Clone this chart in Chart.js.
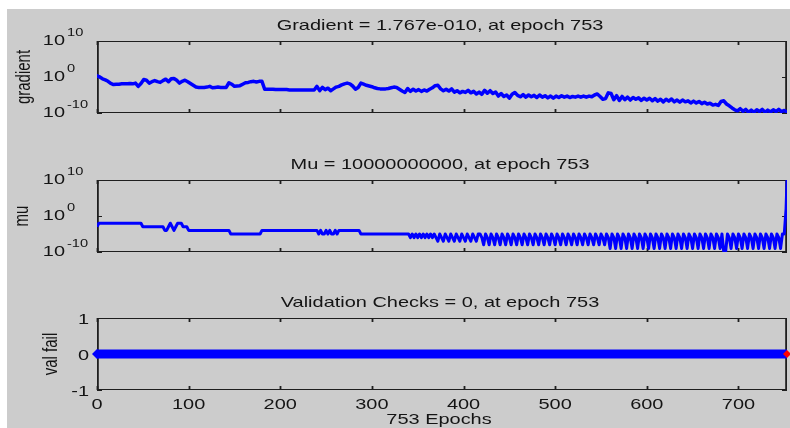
<!DOCTYPE html>
<html>
<head>
<meta charset="utf-8">
<script src="https://cdn.jsdelivr.net/npm/chart.js@4.4.0/dist/chart.umd.min.js"></script>
<style>
  html, body { margin: 0; padding: 0; background: #fff; }
  #fig { position: relative; width: 790px; height: 428px; overflow: hidden; }
  #bg { position: absolute; left: 7px; top: 9px; right: 0; bottom: 0; background: #cccccc; }
  canvas { position: absolute; left: 0; top: 0; }
</style>
</head>
<body>
<div id="fig">
  <div id="bg"></div>
  <canvas id="gradChart" width="800" height="428"></canvas>
  <canvas id="muChart" width="800" height="428"></canvas>
  <canvas id="valChart" width="800" height="428"></canvas>
</div>
<script>
const maxEpoch = 753;
const xTicks = [0, 100, 200, 300, 400, 500, 600, 700];
const logTicks = [-10, 0, 10];
const valTicks = [-1, 0, 1];

const titles = [
    "Gradient = 1.767e-010, at epoch 753",
    "Mu = 10000000000, at epoch 753",
    "Validation Checks = 0, at epoch 753",
];
const yLabels = ["gradient", "mu", "val fail"];
const xLabel = "753 Epochs";

// log10 of the gradient, one value every 3 epochs (0, 3, ... 753)
const gradientExp = [
    0.3, 0.0, -0.5, -0.8, -1.2, -1.8, -2.1, -2.0, -2.0, -1.9,
    -1.9, -1.9, -1.8, -1.9, -1.7, -2.6, -1.8, -0.7, -0.9, -1.7,
    -1.3, -1.0, -1.3, -1.5, -1.0, -0.6, -1.3, -0.5, -0.4, -0.9,
    -1.7, -1.2, -0.9, -1.3, -1.8, -2.3, -2.8, -2.9, -2.9, -2.9,
    -2.8, -2.6, -3.0, -2.9, -2.8, -2.9, -2.9, -2.9, -1.6, -2.0,
    -2.6, -2.5, -2.4, -2.0, -1.6, -1.5, -1.3, -1.2, -1.4, -1.2,
    -1.2, -3.4, -3.4, -3.4, -3.4, -3.5, -3.5, -3.5, -3.5, -3.5,
    -3.6, -3.6, -3.6, -3.6, -3.6, -3.6, -3.6, -3.6, -3.6, -3.6,
    -2.6, -3.8, -2.9, -3.5, -3.1, -3.8, -3.3, -2.8, -2.6, -2.2,
    -1.9, -1.7, -1.9, -2.5, -3.4, -2.9, -1.7, -2.0, -2.3, -2.5,
    -2.7, -3.0, -3.2, -3.3, -3.3, -3.3, -3.2, -3.0, -2.8, -2.9,
    -3.4, -3.9, -4.3, -3.2, -4.0, -3.4, -3.9, -3.5, -4.0, -3.6,
    -3.9, -3.4, -3.0, -2.4, -2.3, -3.3, -3.8, -3.4, -3.9, -3.3,
    -4.2, -3.8, -4.4, -4.0, -4.3, -3.7, -4.4, -4.0, -4.7, -4.2,
    -4.8, -3.7, -4.5, -3.8, -4.6, -4.2, -5.3, -4.6, -5.4, -5.0,
    -5.9, -4.8, -4.3, -5.1, -5.5, -4.9, -5.6, -5.0, -5.5, -5.1,
    -5.7, -5.0, -5.6, -5.2, -5.8, -5.3, -5.9, -5.3, -5.7, -5.2,
    -5.6, -5.3, -5.7, -5.4, -5.6, -5.3, -5.6, -5.3, -5.6, -5.3,
    -5.5, -5.0, -4.7, -5.4, -6.2, -6.0, -4.4, -4.6, -6.3, -5.2,
    -6.5, -5.4, -6.3, -5.6, -6.4, -5.7, -6.2, -5.8, -6.5, -5.9,
    -6.4, -5.9, -6.6, -6.0, -6.7, -6.2, -6.9, -6.2, -6.7, -6.1,
    -6.9, -6.4, -7.0, -6.4, -6.9, -6.6, -7.2, -6.7, -7.2, -6.8,
    -7.4, -7.0, -7.5, -7.3, -7.8, -7.6, -7.9, -6.8, -6.6, -7.5,
    -8.0, -8.6, -9.1, -9.4, -8.8, -9.5, -9.0, -9.8, -9.2, -9.8,
    -9.1, -9.6, -9.0, -9.8, -9.2, -9.7, -9.1, -9.6, -9.0, -9.6,
    -9.3, -9.75,
];

// log10 of mu, one value every 2 epochs (0, 2, ... 752) and the last epoch 753
const muExp = [
    -3,
    -2, -2, -2, -2, -2, -2, -2, -2, -2, -2, -2, -2,
    -2, -2, -2, -2, -2, -2, -2, -2, -2, -2, -2, -2,
    -3, -3, -3, -3, -3, -3, -3, -3, -3, -3, -3, -3,
    -4, -4, -3, -2, -3, -4, -3, -2, -2, -2, -3, -3, -3, -4,
    -4, -4, -4, -4, -4, -4, -4, -4, -4, -4, -4,
    -4, -4, -4, -4, -4, -4, -4, -4, -4, -4, -4,
    -5, -5, -5, -5, -5, -5, -5, -5, -5, -5, -5, -5, -5, -5, -5, -5, -5,
    -4, -4, -4, -4, -4, -4, -4, -4, -4, -4,
    -4, -4, -4, -4, -4, -4, -4, -4, -4, -4,
    -4, -4, -4, -4, -4, -4, -4, -4, -4, -4, -4,
    -5, -4, -5, -5, -4, -5, -4, -5, -5, -4, -5, -4,
    -4, -4, -4, -4, -4, -4, -4, -4, -4, -4, -4,
    -5, -5, -5, -5, -5, -5, -5, -5, -5, -5, -5, -5, -5,
    -5, -5, -5, -5, -5, -5, -5, -5, -5, -5, -5, -5, -5,
    -5, -6, -5, -6, -5, -6, -5, -6, -5, -6, -5, -6, -5, -6,
    -5, -6, -7, -5, -6, -7, -5, -6, -7, -5, -6, -7,
    -5, -6, -7, -5, -6, -7, -5, -6, -7, -5, -6, -7, -5,
    -5, -6, -8, -5, -6, -8, -5, -6, -8, -5, -6, -8,
    -5, -6, -8, -5, -6, -8, -5, -6, -8, -5, -6, -8,
    -5, -6, -8, -5, -6, -8, -5, -6, -8, -5, -6, -8,
    -5, -6, -8, -5, -6, -8, -5, -6, -8, -5, -6, -8,
    -5, -6, -8, -5, -6, -8, -5, -6, -8, -5, -6, -8,
    -5, -6, -8, -5, -6, -8, -5, -6, -8,
    -5, -6, -9, -5, -6, -9, -5, -6, -9, -5, -6, -9,
    -5, -6, -9, -5, -6, -9, -5, -6, -9, -5, -6, -9,
    -5, -6, -9, -5, -6, -9, -5, -6, -9, -5, -6, -9,
    -5, -6, -9, -5, -6, -9, -5, -6, -9, -5, -6, -9,
    -5, -6, -9, -5, -6, -9, -5, -6, -9, -5, -6, -9,
    -5, -6, -9, -5, -10, -10, -5, -6, -9, -5, -6, -9,
    -5, -6, -9, -5, -6, -9, -5, -6, -9, -5, -6, -9,
    -5, -6, -9, -5, -6, -9, -5, -6, -9, -5, -6, -9,
    -5,
    -5, 2, 10,
];

const valEpochs = [0, 753];
const valFail = [0, 0];
const lastEpoch = [753];
const lastValFail = [0];

const BLUE = "#0000ff";
const SX = 1.33; // the figure is stretched sideways
const FONT = '"Liberation Sans", Arial, sans-serif';

function drawText(ctx, str, x, y, size, align, baseline, rotate) {
    ctx.save();
    ctx.translate(x, y);
    ctx.scale(SX, 1);
    if (rotate) ctx.rotate(-Math.PI / 2);
    ctx.font = size + "px " + FONT;
    ctx.textAlign = align;
    ctx.textBaseline = baseline;
    ctx.fillStyle = "#141414";
    ctx.fillText(str, 0, 0);
    ctx.restore();
}

const axesFrame = {
    id: "axesFrame",
    // box and ticks go under the lines
    beforeDatasetsDraw(chart, args, opts) {
        const { ctx, chartArea: a } = chart;
        const x = chart.scales.x;
        const y = chart.scales.y;
        ctx.save();
        ctx.strokeStyle = "#1e1e1e";

        ctx.lineWidth = 1;
        ctx.beginPath();
        ctx.moveTo(a.left, a.top + 0.5);
        ctx.lineTo(a.right, a.top + 0.5);
        ctx.moveTo(a.left, a.bottom - 0.5);
        ctx.lineTo(a.right, a.bottom - 0.5);
        ctx.stroke();
        ctx.lineWidth = 1.8;
        ctx.beginPath();
        ctx.moveTo(a.left + 0.9, a.top);
        ctx.lineTo(a.left + 0.9, a.bottom);
        ctx.moveTo(a.right - 0.9, a.top);
        ctx.lineTo(a.right - 0.9, a.bottom);
        ctx.stroke();

        ctx.beginPath();
        xTicks.forEach(v => {
            const px = Math.round(x.getPixelForValue(v)) + 0.5;
            ctx.moveTo(px, a.top);
            ctx.lineTo(px, a.top + 4);
            ctx.moveTo(px, a.bottom);
            ctx.lineTo(px, a.bottom - 4);
        });
        ctx.stroke();
        ctx.lineWidth = 1;
        ctx.beginPath();
        opts.yTicks.forEach(v => {
            const py = Math.round(y.getPixelForValue(opts.log ? 10 ** v : v)) + 0.5;
            ctx.moveTo(a.left, py);
            ctx.lineTo(a.left + 5, py);
            ctx.moveTo(a.right, py);
            ctx.lineTo(a.right - 5, py);
        });
        ctx.stroke();
        ctx.restore();
    },
    afterDraw(chart, args, opts) {
        const { ctx, chartArea: a } = chart;
        const x = chart.scales.x;
        const y = chart.scales.y;

        opts.yTicks.forEach(v => {
            const py = y.getPixelForValue(opts.log ? 10 ** v : v);
            if (opts.log) {
                drawText(ctx, "10", 65, py + 4, 15, "right", "alphabetic");
                drawText(ctx, String(v), 67, py - 5, 11, "left", "alphabetic");
            } else {
                drawText(ctx, String(v), 89, py + 6, 15, "right", "alphabetic");
            }
        });
        if (opts.xLabels) {
            xTicks.forEach(v => {
                drawText(ctx, String(v), x.getPixelForValue(v), a.bottom + 18.5, 15, "center", "alphabetic");
            });
            drawText(ctx, xLabel, (a.left + a.right) / 2 - 3, a.bottom + 34, 15, "center", "alphabetic");
        }

        drawText(ctx, opts.title, (a.left + a.right) / 2 - 2, a.top - 11, 15, "center", "alphabetic");
        drawText(ctx, opts.yLabel, opts.yLabelX, (a.top + a.bottom) / 2, 15, "center", "middle", true);
    },
};

function makeOptions(padding, yScale, frame) {
    return {
        responsive: false,
        animation: false,
        devicePixelRatio: 1,
        events: [],
        layout: { padding: padding },
        plugins: {
            legend: { display: false },
            tooltip: { enabled: false },
            axesFrame: frame,
        },
        scales: {
            x: { type: "linear", min: 0, max: maxEpoch, display: false },
            y: Object.assign({ display: false }, yScale),
        },
    };
}

const gradPoints = gradientExp.map((v, i) => ({ x: Math.min(i * 3, maxEpoch), y: 10 ** v }));
const muPoints = muExp.map((v, i) => ({ x: Math.min(i * 2, maxEpoch), y: 10 ** v }));
const valPoints = valEpochs.map((e, i) => ({ x: e, y: valFail[i] }));
const lastPoints = lastEpoch.map((e, i) => ({ x: e, y: lastValFail[i] }));

new Chart(document.getElementById("gradChart"), {
    type: "line",
    data: {
        datasets: [{
            data: gradPoints,
            borderColor: BLUE,
            borderWidth: 3.5,
            borderJoinStyle: "round",
            borderCapStyle: "round",
            pointRadius: 0,
            tension: 0,
        }],
    },
    options: makeOptions(
        { left: 97, top: 41, right: 13, bottom: 315 },
        { type: "logarithmic", min: 1e-10, max: 1e10 },
        { log: true, yTicks: logTicks, title: titles[0], yLabel: yLabels[0], yLabelX: 24, xLabels: false }
    ),
    plugins: [axesFrame],
});

new Chart(document.getElementById("muChart"), {
    type: "line",
    data: {
        datasets: [{
            data: muPoints,
            borderColor: BLUE,
            borderWidth: 3,
            borderJoinStyle: "round",
            pointRadius: 0,
            tension: 0,
        }],
    },
    options: makeOptions(
        { left: 97, top: 180, right: 13, bottom: 176 },
        { type: "logarithmic", min: 1e-10, max: 1e10 },
        { log: true, yTicks: logTicks, title: titles[1], yLabel: yLabels[1], yLabelX: 22, xLabels: false }
    ),
    plugins: [axesFrame],
});

new Chart(document.getElementById("valChart"), {
    type: "line",
    data: {
        datasets: [
            {
                data: lastPoints,
                showLine: false,
                pointStyle: "rectRot",
                pointRadius: 4,
                pointBorderWidth: 0,
                pointBackgroundColor: "#ff0000",
                clip: false,
            },
            {
                data: valPoints,
                borderColor: BLUE,
                borderWidth: 9,
                pointStyle: "rectRot",
                pointRadius: [5, 0],
                pointBorderWidth: 0,
                pointBackgroundColor: BLUE,
                tension: 0,
                clip: false,
            },
        ],
    },
    options: makeOptions(
        { left: 97, top: 318, right: 13, bottom: 38 },
        { type: "linear", min: -1, max: 1 },
        { log: false, yTicks: valTicks, title: titles[2], yLabel: yLabels[2], yLabelX: 51, xLabels: true }
    ),
    plugins: [axesFrame],
});
</script>
</body>
</html>
